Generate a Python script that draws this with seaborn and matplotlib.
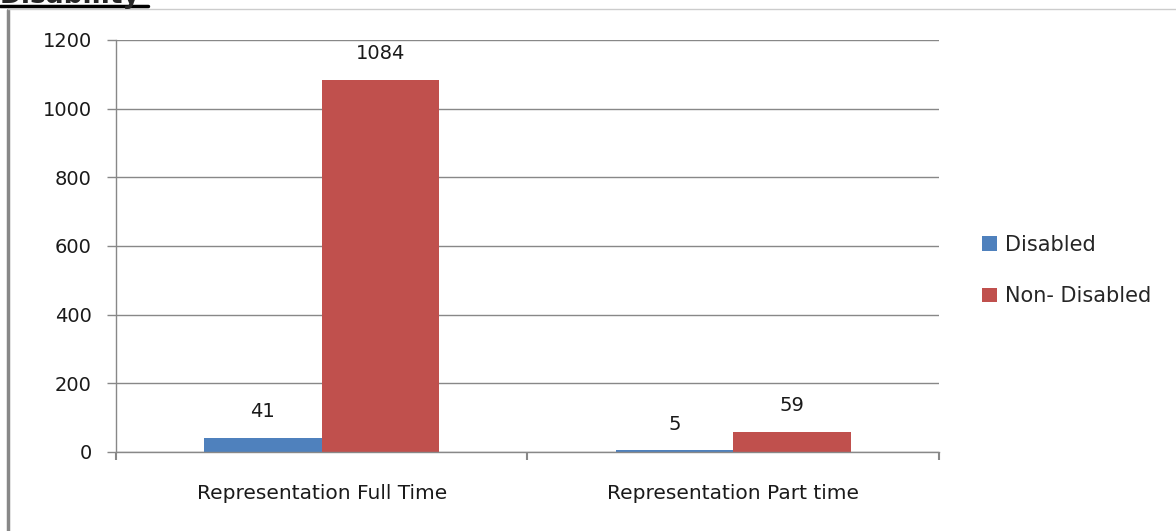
import matplotlib
matplotlib.use("Agg")
import matplotlib.pyplot as plt
import matplotlib.lines as mlines
import seaborn as sns
import pandas as pd

# data
categories = ["Representation Full Time", "Representation Part time"]
groups = ["Disabled", "Non- Disabled"]
disabled = [41, 5]
non_disabled = [1084, 59]
colors = ["#4F81BD", "#C0504D"]

df = pd.DataFrame({
    "category": categories * 2,
    "group": [groups[0]] * 2 + [groups[1]] * 2,
    "value": disabled + non_disabled,
})

sns.set_style("white")
plt.rcParams["font.family"] = ["DejaVu Sans"]

fig = plt.figure(figsize=(11.76, 5.31), dpi=100)
ax = fig.add_axes([0.0986, 0.1488, 0.6999, 0.7759])

sns.barplot(data=df, x="category", y="value", hue="group", order=categories,
            hue_order=groups, palette=colors, width=0.572, saturation=1,
            linewidth=0, ax=ax, legend=True)

for cont in ax.containers:
    ax.bar_label(cont, padding=12, fontsize=14, color="#1a1a1a")

ax.set_ylim(0, 1200)
ax.set_yticks(range(0, 1201, 200))
ax.set_xlim(-0.5, 1.5)
ax.set_xticks([-0.5, 0.5, 1.5])
ax.set_xticklabels([])
ax.set_xticks([0, 1], minor=True)
ax.set_xticklabels(categories, minor=True, fontsize=14.5, color="#1a1a1a")
ax.tick_params(axis="x", which="minor", bottom=False, length=0, pad=23)
ax.tick_params(axis="x", which="major", bottom=True, length=6, width=1.5,
               color="#888888", direction="out")
ax.tick_params(axis="y", left=True, length=6.5, width=1, color="#888888",
               direction="out", labelsize=14, labelcolor="#1a1a1a", pad=11)
ax.set_xlabel("")
ax.set_ylabel("")
ax.grid(axis="y", color="#888888", linewidth=1)
ax.set_axisbelow(True)
for s in ["top", "right"]:
    ax.spines[s].set_visible(False)
for s in ["left", "bottom"]:
    ax.spines[s].set_color("#888888")
    ax.spines[s].set_linewidth(1)

ax.legend(loc="center left", bbox_to_anchor=(1.03, 0.44), frameon=False,
          fontsize=15, handlelength=0.7, handleheight=0.7, handletextpad=0.4,
          labelspacing=1.5)

# frame bits and cut-off heading at the top
fig.add_artist(mlines.Line2D([0.0068, 0.0068], [0, 0.981], color="#888888", lw=2.5,
                             transform=fig.transFigure))
fig.add_artist(mlines.Line2D([0.0068, 1], [0.983, 0.983], color="#cccccc", lw=1,
                             transform=fig.transFigure))
fig.text(0.0, 0.9935, "Disability", fontsize=19, fontweight="bold", va="baseline",
         ha="left")
fig.add_artist(mlines.Line2D([0.0, 0.126], [0.988, 0.988], color="black", lw=2.5,
                             transform=fig.transFigure))

fig.savefig("out.png", dpi=100)
